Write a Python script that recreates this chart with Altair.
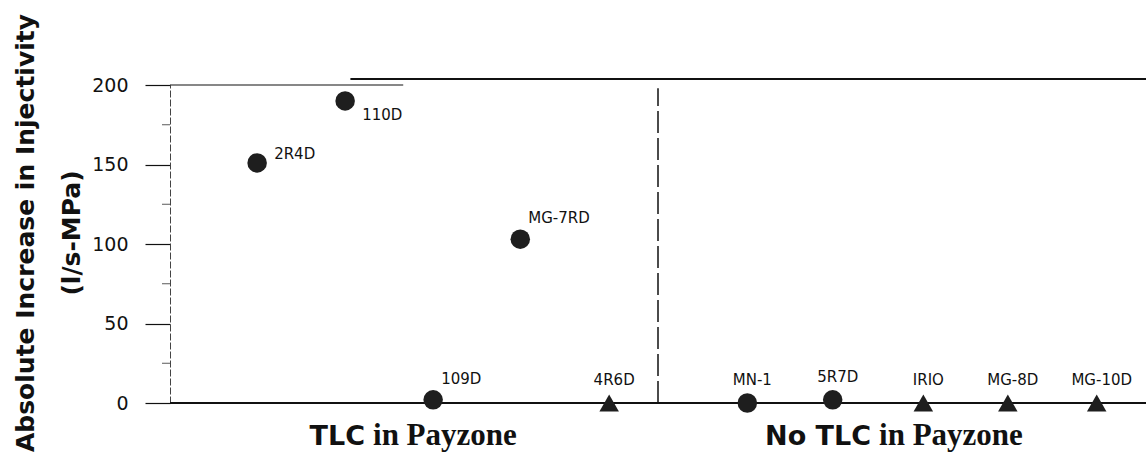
import altair as alt
import pandas as pd

# ---- data ----
wells = ["2R4D", "110D", "109D", "MG-7RD", "4R6D", "MN-1", "5R7D", "IRIO", "MG-8D", "MG-10D"]
x_pos = [0.99, 1.99, 2.99, 3.98, 4.99, 6.56, 7.53, 8.56, 9.52, 10.53]
increase = [151, 190, 2, 103, 0, 0, 2, 0, 0, 0]
shapes = ["circle", "circle", "circle", "circle", "triangle-up",
          "circle", "circle", "triangle-up", "triangle-up", "triangle-up"]

y_major = [0, 50, 100, 150, 200]
y_minor = [25, 75, 125, 175]
y_title = ["Absolute Increase in Injectivity", "(l/s-MPa)"]
x_max = 11.09
divider_x = 5.545
group_prefix = ["TLC", "No TLC"]
group_suffix = ["in Payzone", "in Payzone"]
group_split_x = [2.25, 8.0]
# the top frame line in the scan is in two overlapping pieces
top_left_span = [0, 2.65]
top_right_span = [2.05, 11.09]

df = pd.DataFrame({"well": wells, "x": x_pos, "y": increase, "shape": shapes})
groups = pd.DataFrame({"x": group_split_x, "prefix": group_prefix,
                       "suffix": group_suffix, "y": [0, 0]})
minor = pd.DataFrame({"x": [0] * len(y_minor), "y": y_minor})
frame = pd.DataFrame({"x": [0], "x2": [x_max], "y_bottom": [0], "y_top": [200]})
top_l = pd.DataFrame({"x": [top_left_span[0]], "x2": [top_left_span[1]], "y": [200]})
top_r = pd.DataFrame({"x": [top_right_span[0]], "x2": [top_right_span[1]], "y": [200]})
divider = pd.DataFrame({"x": [divider_x], "y": [0], "y2": [198]})

W, H = 976, 318

xs = alt.Scale(domain=[0, x_max], nice=False, zero=False)
ys = alt.Scale(domain=[0, 200], nice=False)

yaxis = alt.Axis(
    values=y_major, tickSize=25, tickColor="#111", tickWidth=1.2,
    labelFont="DejaVu Sans", labelFontSize=19, labelColor="#111", labelPadding=17,
    domainColor="#444", domainDash=[7, 2], domainWidth=1,
    grid=False, title=None,
)


def X(field):
    return alt.X(field, scale=xs, axis=None)


def Y(field):
    return alt.Y(field, scale=ys, axis=yaxis)


bottom = alt.Chart(frame).mark_rule(color="#111", strokeWidth=1.8).encode(
    x=X("x:Q"), x2="x2:Q", y=Y("y_bottom:Q"))
top1 = alt.Chart(top_l).mark_rule(color="#111", strokeWidth=1.2).encode(
    x=X("x:Q"), x2="x2:Q", y=Y("y:Q"))
top2 = alt.Chart(top_r).mark_rule(color="#111", strokeWidth=2, yOffset=-6).encode(
    x=X("x:Q"), x2="x2:Q", y=Y("y:Q"))
div = alt.Chart(divider).mark_rule(color="#111", strokeWidth=1.5, strokeDash=[22, 5]).encode(
    x=X("x:Q"), y=Y("y:Q"), y2="y2:Q")
minor_ticks = alt.Chart(minor).mark_tick(color="#111", orient="horizontal", size=8,
                                         thickness=1, xOffset=-4).encode(
    x=X("x:Q"), y=Y("y:Q"))

points = alt.Chart(df).mark_point(filled=True, opacity=1, color="#1e1e1e", size=380).encode(
    x=X("x:Q"),
    y=Y("y:Q"),
    shape=alt.Shape("shape:N",
                    scale=alt.Scale(domain=["circle", "triangle-up"],
                                    range=["circle", "triangle-up"]),
                    legend=None),
)


def labels(names, dx, dy, align):
    return alt.Chart(df).transform_filter(
        alt.FieldOneOfPredicate(field="well", oneOf=names)
    ).mark_text(font="DejaVu Sans", fontSize=15, color="#111", align=align,
                baseline="middle", dx=dx, dy=dy).encode(
        x=X("x:Q"), y=Y("y:Q"), text="well:N")


lab_a = labels(["2R4D"], 17, -9, "left")
lab_b = labels(["110D"], 17, 14, "left")
lab_c = labels(["MG-7RD", "109D"], 8, -21, "left")
lab_d = labels(["4R6D", "MN-1", "5R7D", "IRIO", "MG-8D", "MG-10D"], 5, -23, "center")

g_pre = alt.Chart(groups).mark_text(font="DejaVu Sans", fontSize=27, fontWeight="bold",
                                    color="#111", align="right", baseline="alphabetic",
                                    dx=-3, dy=42).encode(
    x=X("x:Q"), y=Y("y:Q"), text="prefix:N")
g_suf = alt.Chart(groups).mark_text(font="Liberation Serif", fontSize=31, fontWeight="bold",
                                    color="#111", align="left", baseline="alphabetic",
                                    dx=5, dy=42).encode(
    x=X("x:Q"), y=Y("y:Q"), text="suffix:N")

# y-axis title, two rotated lines
title_df = pd.DataFrame({"t": y_title, "line": [0, 1]})


def title_line(i, xpix, size):
    return alt.Chart(title_df).transform_filter(alt.datum.line == i).mark_text(
        font="DejaVu Sans", fontSize=size, fontWeight="bold", color="#111",
        angle=270, align="center", baseline="alphabetic").encode(
        x=alt.value(xpix), y=alt.value(148), text="t:N")


t1 = title_line(0, -136, 25)
t2 = title_line(1, -90, 25)

chart = alt.layer(
    bottom, top1, top2, div, minor_ticks, points, lab_a, lab_b, lab_c, lab_d,
    g_pre, g_suf, t1, t2
).properties(
    width=W, height=H,
    autosize=alt.AutoSizeParams(type="none"),
    padding={"left": 170, "top": 85, "right": 0, "bottom": 61},
    background="white",
).configure_view(stroke=None)

chart.save("out.html", embed_options={"renderer": "svg", "actions": False})
